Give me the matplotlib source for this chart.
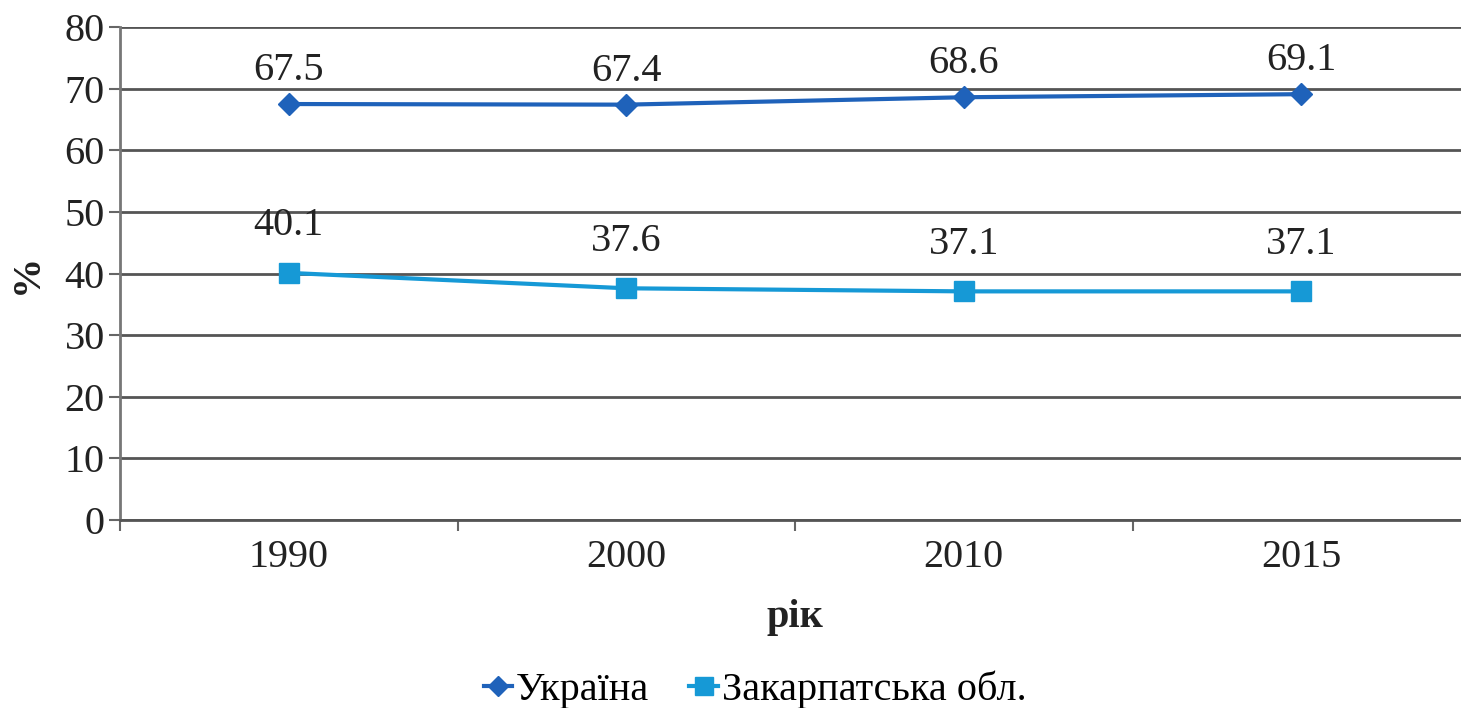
import matplotlib.pyplot as plt
import numpy as np

# дані
years = ['1990', '2000', '2010', '2015']
ukraine = [67.5, 67.4, 68.6, 69.1]
zakarpattia = [40.1, 37.6, 37.1, 37.1]
y_ticks = [0, 10, 20, 30, 40, 50, 60, 70, 80]

plt.rcParams['font.family'] = ['Liberation Serif', 'DejaVu Serif']
fs = 29

fig = plt.figure(figsize=(14.61, 7.08), dpi=100)
# область графіка виходить за правий край, як в оригіналі
ax = fig.add_axes([120 / 1461, 188 / 708, 1350 / 1461, 493 / 708])

x = np.arange(len(years))
ax.plot(x, ukraine, color='#1F62BA', lw=3, marker='D', ms=11, label='Україна', zorder=3)
ax.plot(x, zakarpattia, color='#1699D6', lw=3, marker='s', ms=15, label='Закарпатська обл.', zorder=3)

# підписи значень
for i in range(len(years)):
    ax.annotate(str(ukraine[i]), (x[i], ukraine[i]), xytext=(0, 24), textcoords='offset points',
                ha='center', va='center', fontsize=fs, color='#222222')
    ax.annotate(str(zakarpattia[i]), (x[i], zakarpattia[i]), xytext=(0, 34), textcoords='offset points',
                ha='center', va='center', fontsize=fs, color='#222222')

ax.set_xlim(-0.5, len(years) - 0.5)
ax.set_ylim(0, 80)
ax.set_yticks(y_ticks)
ax.set_xticks(x)
ax.set_xticklabels(years)
ax.set_xticks(np.arange(-0.5, len(years) - 0.5, 1), minor=True)
ax.tick_params(axis='x', which='major', length=0, pad=14, labelsize=fs, labelcolor='#222222')
ax.tick_params(axis='x', which='minor', length=8, width=1.5, color='#666666')
ax.tick_params(axis='y', length=8, width=1.5, color='#666666', labelsize=fs, labelcolor='#222222', pad=3)

ax.grid(axis='y', color='#555555', lw=2)
ax.set_axisbelow(True)
for s in ['top', 'right']:
    ax.spines[s].set_visible(False)
ax.spines['left'].set_color('#777777')
ax.spines['left'].set_linewidth(2)
ax.spines['bottom'].set_color('#555555')
ax.spines['bottom'].set_linewidth(2)

ax.set_xlabel('рік', fontsize=fs, fontweight='bold', color='#222222')
ax.xaxis.set_label_coords((795 - 120) / 1350, -0.16)
ax.set_ylabel('%', fontsize=fs, fontweight='bold', color='#222222')
ax.yaxis.set_label_coords(-0.055, 0.5)

fig.legend(loc='center', bbox_to_anchor=(755 / 1461, 1 - 690 / 708), ncol=2, frameon=False,
           fontsize=fs, handlelength=0.7, handletextpad=0.1, columnspacing=1.0, markerscale=0.9)

plt.savefig('out.png', dpi=100)
